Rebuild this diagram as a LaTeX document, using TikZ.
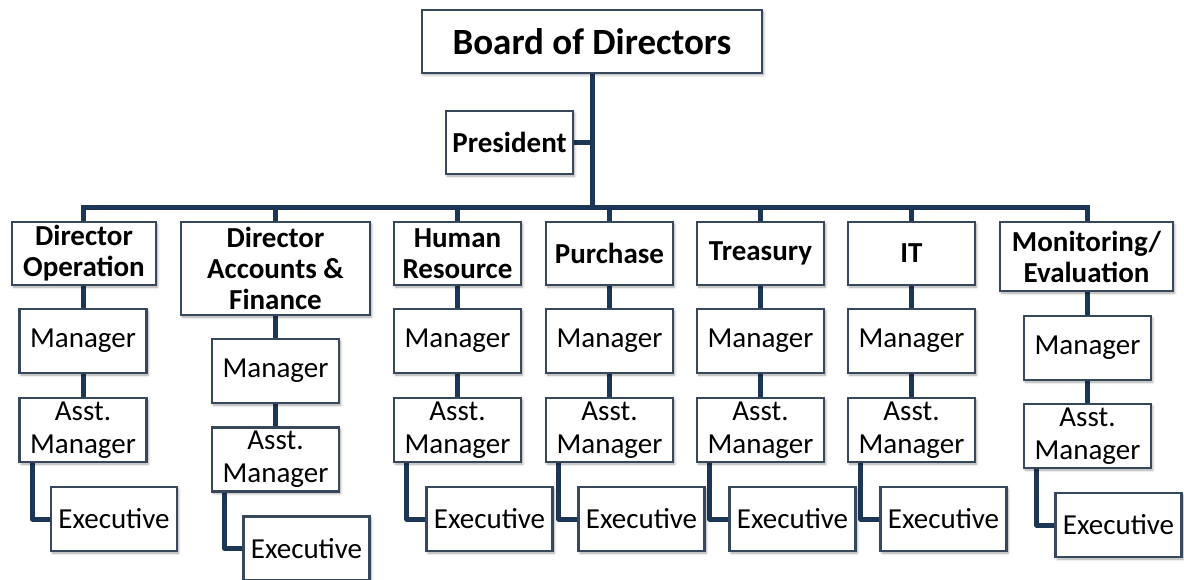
\documentclass[tikz,border=0pt]{standalone}
\usepackage{fontspec}
\setmainfont{Carlito}
\usetikzlibrary{shadows.blur,calc,backgrounds}
\definecolor{boxc}{RGB}{55,72,92}
\definecolor{linec}{RGB}{28,54,86}
\tikzset{
  orgbox/.style={draw=boxc, line width=2.4pt, fill=white, inner sep=0pt, align=center,
    minimum width=127pt, minimum height=64pt,
    blur shadow={shadow xshift=1.5pt, shadow yshift=-2pt, shadow opacity=35, shadow blur radius=2.5pt, shadow blur steps=6}},
  headbox/.style={orgbox, font=\fontsize{29}{31}\selectfont\bfseries},
  staffbox/.style={orgbox, font=\fontsize{29}{33}\selectfont},
  conn/.style={draw=linec, line width=5pt},
  elbow/.style={draw=linec, line width=5pt, line join=round}
}
\begin{document}
\begin{tikzpicture}[x=1pt,y=-1pt]
\useasboundingbox (0,0) rectangle (1184,580);
\coordinate (barY) at (0,208);
% nodes
\node[headbox, font=\fontsize{37}{40}\selectfont\bfseries, minimum width=340pt, minimum height=63pt] (bod) at (592,41.5) {Board of Directors};
\node[headbox, minimum height=63pt] (pres) at (509.5,142.5) {President};
\node[headbox, minimum width=144pt, minimum height=63pt] (dop) at (84,253.5) {Director\\Operation};
\node[headbox, minimum width=189pt, minimum height=93pt] (daf) at (275.5,268.5) {Director\\Accounts \&\\Finance};
\node[headbox, minimum height=63pt] (hr) at (457.5,253.5) {Human\\Resource};
\node[headbox, minimum height=63pt] (pur) at (609.5,253.5) {Purchase};
\node[headbox, minimum height=63pt] (tre) at (760.5,253.5) {Treasury};
\node[headbox, minimum height=63pt] (it) at (911.5,253.5) {IT};
\node[headbox, minimum width=173pt, minimum height=69pt] (mon) at (1086.5,256.5) {Monitoring/\\Evaluation};
% managers
\node[staffbox] (m1) at (83,341) {Manager};
\node[staffbox] (m2) at (275.5,371) {Manager};
\node[staffbox] (m3) at (457.5,341) {Manager};
\node[staffbox] (m4) at (609.5,341) {Manager};
\node[staffbox] (m5) at (760.5,341) {Manager};
\node[staffbox] (m6) at (911.5,341) {Manager};
\node[staffbox] (m7) at (1087.5,348) {Manager};
% assistants
\node[staffbox] (a1) at (83,430) {Asst.\\Manager};
\node[staffbox] (a2) at (275.5,459.5) {Asst.\\Manager};
\node[staffbox] (a3) at (457.5,430) {Asst.\\Manager};
\node[staffbox] (a4) at (609.5,430) {Asst.\\Manager};
\node[staffbox] (a5) at (760.5,430) {Asst.\\Manager};
\node[staffbox] (a6) at (911.5,430) {Asst.\\Manager};
\node[staffbox] (a7) at (1087.5,436) {Asst.\\Manager};
% executives
\node[staffbox, minimum width=126pt] (e1) at (114,519) {Executive};
\node[staffbox, minimum width=126pt] (e2) at (306.5,548.5) {Executive};
\node[staffbox, minimum width=126pt] (e3) at (489.5,519) {Executive};
\node[staffbox, minimum width=126pt] (e4) at (641.5,519) {Executive};
\node[staffbox, minimum width=126pt] (e5) at (792.5,519) {Executive};
\node[staffbox, minimum width=126pt] (e6) at (943.5,519) {Executive};
\node[staffbox, minimum width=126pt] (e7) at (1118.5,525) {Executive};
% connectors behind the boxes
\begin{pgfonlayer}{background}
\draw[conn] (bod.south) -- (bod.south |- barY);
\draw[conn] (pres.east) -- (pres.east -| bod.south);
\draw[conn, line join=miter] (m1.north |- dop.north) -- (m1.north |- barY) -- (m7.north |- barY) -- (m7.north |- mon.north);
\foreach \n in {daf,hr,pur,tre,it}{
  \draw[conn] (\n.north) -- (\n.north |- barY);
}
\foreach \h/\m in {dop/m1,daf/m2,hr/m3,pur/m4,tre/m5,it/m6,mon/m7}{
  \draw[conn] (\m.north |- \h.south) -- (\m.north);
}
\foreach \m/\a in {m1/a1,m2/a2,m3/a3,m4/a4,m5/a5,m6/a6,m7/a7}{
  \draw[conn] (\m.south) -- (\a.north);
}
\foreach \a/\e in {a1/e1,a2/e2,a3/e3,a4/e4,a5/e5,a6/e6,a7/e7}{
  \draw[elbow] ($(\a.south west)+(14,0)$) |- (\e.west);
}
\end{pgfonlayer}
\end{tikzpicture}
\end{document}
